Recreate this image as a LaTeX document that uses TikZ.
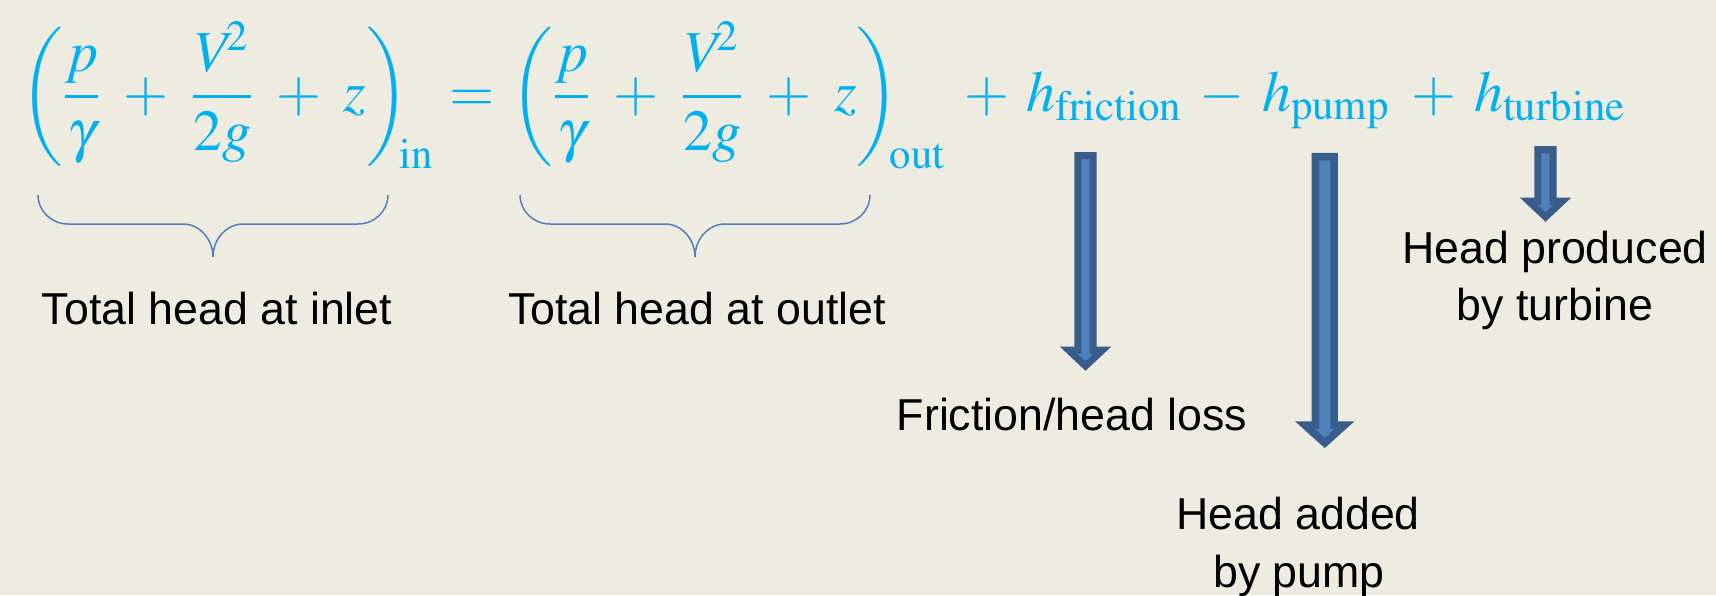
\documentclass[tikz,border=0pt]{standalone}
\usepackage{mathptmx}
\usepackage[no-math]{fontspec}
\newfontfamily\lblfont{Liberation Sans}
\usetikzlibrary{calc}
\definecolor{bg}{HTML}{EEECE1}
\definecolor{eqc}{HTML}{00B0F0}
\definecolor{afill}{HTML}{4F81BD}
\definecolor{aline}{HTML}{385D8A}
\definecolor{brc}{HTML}{4F81BD}
\newcommand\blockarrow[6]{% top, tip, shaft half width, head half width, head length, line width
  \draw[barrow, line width=#6] ($(#1)+(-#3,0)$) -- ($(#2)+(-#3,-#5)$) -- ($(#2)+(-#4,-#5)$) -- (#2)
    -- ($(#2)+(#4,-#5)$) -- ($(#2)+(#3,-#5)$) -- ($(#1)+(#3,0)$) -- cycle;}
\newcommand\hbrace[5]{% left x, right x, top y, level y, tip y
  \draw[brace] (#1,#3) .. controls (#1,#3+16) and (#1+13.5,#4) .. (#1+30,#4)
    -- ({(#1+#2)/2-30},#4) .. controls ({(#1+#2)/2-13.5},#4) and ({(#1+#2)/2},#5-18) .. ({(#1+#2)/2},#5)
    .. controls ({(#1+#2)/2},#5-18) and ({(#1+#2)/2+13.5},#4) .. ({(#1+#2)/2+30},#4)
    -- (#2-30,#4) .. controls (#2-13.5,#4) and (#2,#3+16) .. (#2,#3);}
\newcommand\headterm{\medmuskip=7mu\displaystyle\left(\frac{p}{\gamma}+\frac{V^{\mkern-3.5mu 2}}{2g}+z\right)}
\begin{document}
\begin{tikzpicture}[x=0.5pt,y=-0.5pt,
  eq/.style={inner sep=0pt, outer sep=0pt, text=eqc, anchor=base west,
    font=\fontsize{29}{34}\selectfont},
  lbl/.style={inner sep=0pt, anchor=base, font=\lblfont\fontsize{22.35}{29}\selectfont},
  brace/.style={draw=brc, line width=0.75pt},
  barrow/.style={fill=afill, draw=aline}]
\fill[bg] (0,0) rectangle (1716,595);
\useasboundingbox (0,0) rectangle (1716,595);
% equation
\node[eq] (lhs) at (20,111) {$\headterm_{\mkern-4mu\mathrm{in}}$};
\node[eq] (eqs) at (449,111) {$=$};
\node[eq] (rhs) at (510,111) {$\headterm_{\mkern-4mu\mathrm{out}}$};
\node[eq] (pl1) at (964,111) {$+$};
\node[eq] (hf) at (1026,111) {$h_{\mathrm{friction}}$};
\node[eq] (mi) at (1199,111) {$-$};
\node[eq] (hp) at (1262,111) {$h_{\mathrm{pump}}$};
\node[eq] (pl2) at (1411,111) {$+$};
\node[eq] (ht) at (1474,111) {$h_{\mathrm{turbine}}$};
% braces
\hbrace{38}{388}{195}{224}{257}
\hbrace{520}{870}{195}{224}{257}
% labels
\node[lbl] (inlet) at (217,324) {Total head at inlet};
\node[lbl] (outlet) at (697,324) {Total head at outlet};
\node[lbl] (fric) at (1072,430) {Friction/head loss};
\node[lbl] (pump1) at (1298,529) {Head added};
\node[lbl] (pump2) at (1299,587) {by pump};
\node[lbl] (turb1) at (1555,263) {Head produced};
\node[lbl] (turb2) at (1555,320) {by turbine};
% arrows
\coordinate (fA) at (1085.5,155.5);
\coordinate (fB) at (1085.5,366);
\coordinate (pA) at (1324.7,156.5);
\coordinate (pB) at (1324.7,443);
\coordinate (tA) at (1545.5,149.5);
\coordinate (tB) at (1545.5,217);
\blockarrow{fA}{fB}{7.6}{17}{16}{3.5pt}
\blockarrow{pA}{pB}{9.3}{20}{18}{3.75pt}
\blockarrow{tA}{tB}{7.7}{17}{16}{3.5pt}
\end{tikzpicture}
\end{document}
